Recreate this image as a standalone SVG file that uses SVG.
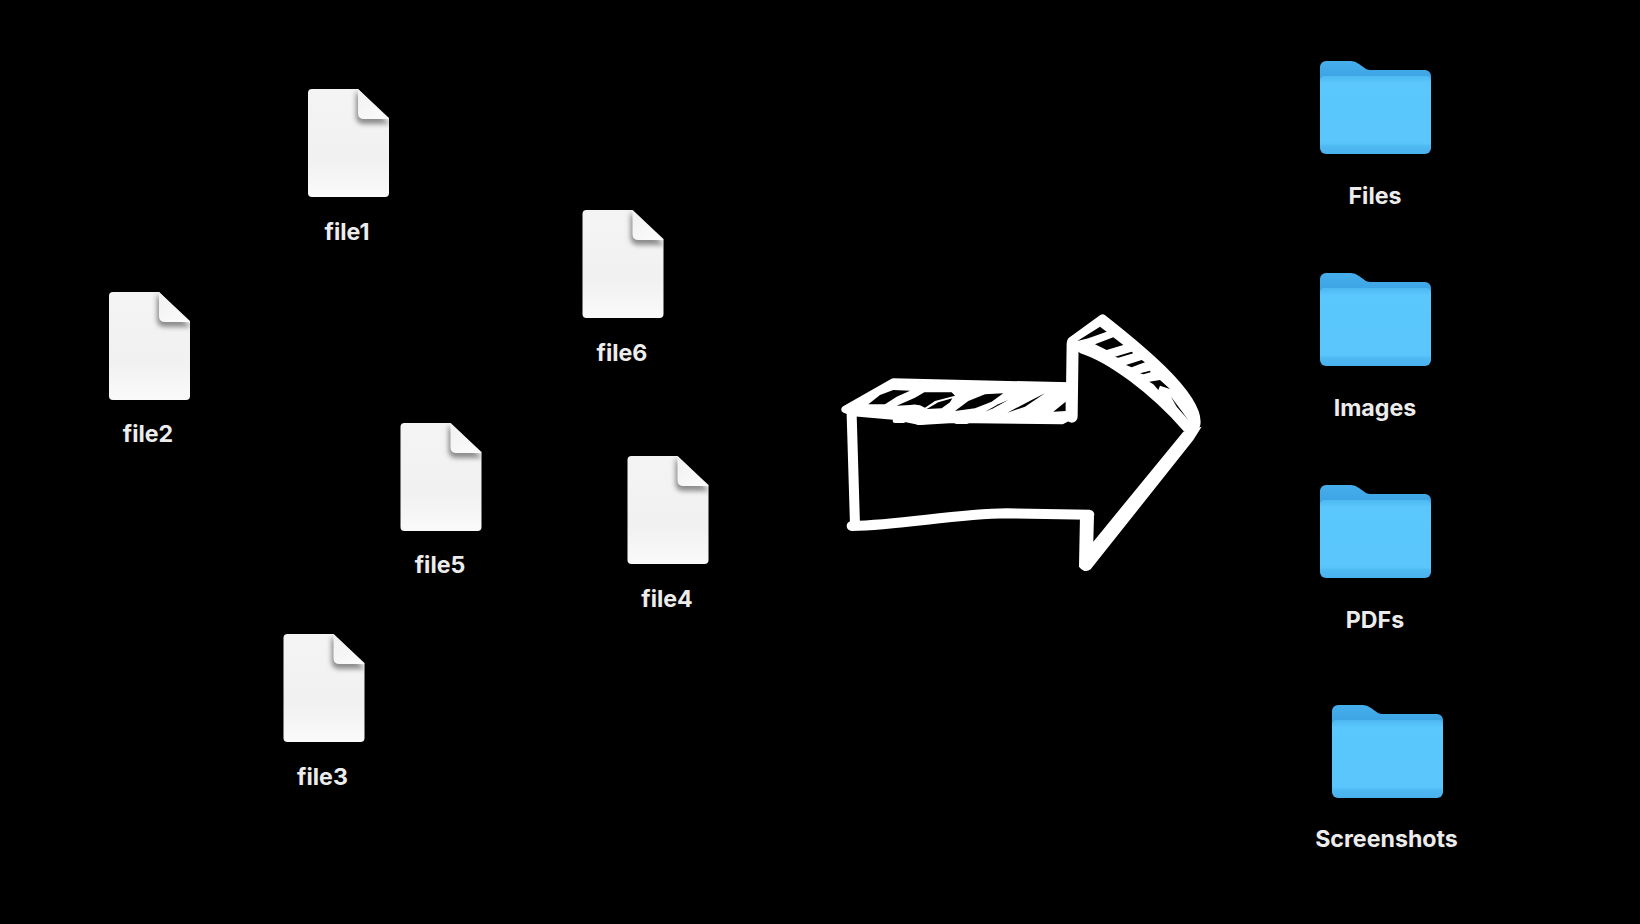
<svg xmlns="http://www.w3.org/2000/svg" width="1640" height="924" viewBox="0 0 1640 924">
<style>
.lb{font-family:"Inter","Liberation Sans",sans-serif;font-weight:700;font-size:23.2px;fill:#ececec;text-anchor:middle}
.st{fill:none;stroke:#fff;stroke-linecap:round;stroke-linejoin:round}
.sl{fill:#000}
</style>
<defs>
<linearGradient id="pg" x1="0" y1="0" x2="0" y2="1"><stop offset="0" stop-color="#f4f4f4"/><stop offset=".65" stop-color="#f1f1f1"/><stop offset="1" stop-color="#fafafa"/></linearGradient>
<linearGradient id="ff" x1="0" y1="0" x2="1" y2="1"><stop offset="0" stop-color="#f0f0f0"/><stop offset="1" stop-color="#fdfdfd"/></linearGradient>
<linearGradient id="fg" x1="0" y1="0" x2="0" y2="1"><stop offset="0" stop-color="#4fb8f2"/><stop offset=".1" stop-color="#5ac8fd"/><stop offset=".86" stop-color="#5ac6fb"/><stop offset=".9" stop-color="#4fb9f2"/><stop offset="1" stop-color="#49b0ec"/></linearGradient>
<linearGradient id="bg" x1="0" y1="0" x2="0" y2="1"><stop offset="0" stop-color="#45aeeb"/><stop offset="1" stop-color="#3298d8"/></linearGradient>
<filter id="bl" x="-40%" y="-40%" width="180%" height="180%"><feGaussianBlur stdDeviation="2.500"/></filter>
<clipPath id="pc"><path d="M4 0H50L81 29V104a4 4 0 0 1-4 4H4a4 4 0 0 1-4-4V4a4 4 0 0 1 4-4Z"/></clipPath>
<g id="doc">
<path d="M4 0H50L81 29V104a4 4 0 0 1-4 4H4a4 4 0 0 1-4-4V4a4 4 0 0 1 4-4Z" fill="url(#pg)"/>
<g clip-path="url(#pc)"><path d="M48 2V27q0 8 8 8H82Z" fill="#8c8c8c" filter="url(#bl)"/></g>
<path d="M50 0V24q0 6 6 6H81Z" fill="url(#ff)"/>
</g>
<g id="folder">
<path d="M6 0H31Q35 0 39 3L46 8Q48 9 51 9H105a6 6 0 0 1 6 6V40H0V6a6 6 0 0 1 6-6Z" fill="url(#bg)"/>
<path d="M0 20q0-5 5-5H106q5 0 5 5V87a6 6 0 0 1-6 6H6a6 6 0 0 1-6-6Z" fill="url(#fg)"/>
</g>
</defs>
<rect width="1640" height="924" fill="#000"/>
<g id="file1"><use href="#doc" x="308" y="89"/><text class="lb" x="347" y="240">file1</text></g>
<g id="file2"><use href="#doc" x="109" y="292"/><text class="lb" x="148" y="442">file2</text></g>
<g id="file3"><use href="#doc" x="283.500" y="634"/><text class="lb" x="322.500" y="785">file3</text></g>
<g id="file4"><use href="#doc" x="627.500" y="456"/><text class="lb" x="667" y="607">file4</text></g>
<g id="file5"><use href="#doc" x="400.500" y="423"/><text class="lb" x="440" y="573">file5</text></g>
<g id="file6"><use href="#doc" x="582.500" y="210"/><text class="lb" x="622" y="361">file6</text></g>
<g id="folder-files"><use href="#folder" x="1320" y="61"/><text class="lb" x="1375" y="204">Files</text></g>
<g id="folder-images"><use href="#folder" x="1320" y="273"/><text class="lb" x="1375" y="416">Images</text></g>
<g id="folder-pdfs"><use href="#folder" x="1320" y="485"/><text class="lb" x="1375" y="628">PDFs</text></g>
<g id="folder-screenshots"><use href="#folder" x="1332" y="705"/><text class="lb" x="1386.500" y="847">Screenshots</text></g>
<g id="connectors">
<g id="arrow">
<g transform="translate(820 290) scale(.3333)">
<path d="M75 358L220 276L750 288L752 378L725 392L400 388L300 394L220 378L100 368Z" class="st" stroke-width="22" style="fill:#fff"/>
<path d="M225 392H250M295 398L345 392M410 395H440" class="st" stroke-width="14"/>
<path d="M755 152L848 85C950 165 1130 310 1130 395C1130 410 1122 420 1100 415C1000 300 870 205 785 178Z" class="st" stroke-width="24" style="fill:#fff"/>
<path d="M820 755L1090 425L1145 410L1120 450L812 838Q795 852 777 830L780 680L822 680Z" fill="#fff"/>
<g class="st" stroke-width="30">
<path d="M95 375L105 705"/>
<path d="M95 708C250 705 400 672 560 670L808 674"/>
<path d="M758 160L755 380" stroke-width="36"/>
</g>
</g>
<g class="sl" transform="translate(835 365) scale(.3333)">
<path d="M100 118L135 90L175 75L225 77L185 95L150 118Z"/>
<path d="M185 122L240 98L268 82L350 82L360 92L300 108L270 128Q250 115 225 120Z"/>
<path d="M275 132L310 112L352 100L345 112L320 130Z"/>
<path d="M360 138L400 108L450 88L505 85L470 110L420 130Z"/>
<path d="M450 140L490 118L520 105L475 130Z"/>
<path d="M517 143L590 105L630 85L570 125Z"/>
<path d="M655 140L692 110V138Z"/>
</g>
<g class="sl" transform="translate(1060 305) scale(.3333)">
<path d="M52 108L120 65L140 80L85 100Z"/>
<path d="M105 118L160 97L190 120L140 135Z"/>
<path d="M165 155L215 140L220 145L175 158Z"/>
<path d="M198 180L245 165L255 172L215 187Z"/>
<path d="M240 205L270 197L272 202L250 208Z"/>
<path d="M268 230L300 225L330 252L300 242L295 255L280 238Z"/>
<path d="M333 275L385 345L350 305Z"/>
</g>
</g>
</g>
</svg>
